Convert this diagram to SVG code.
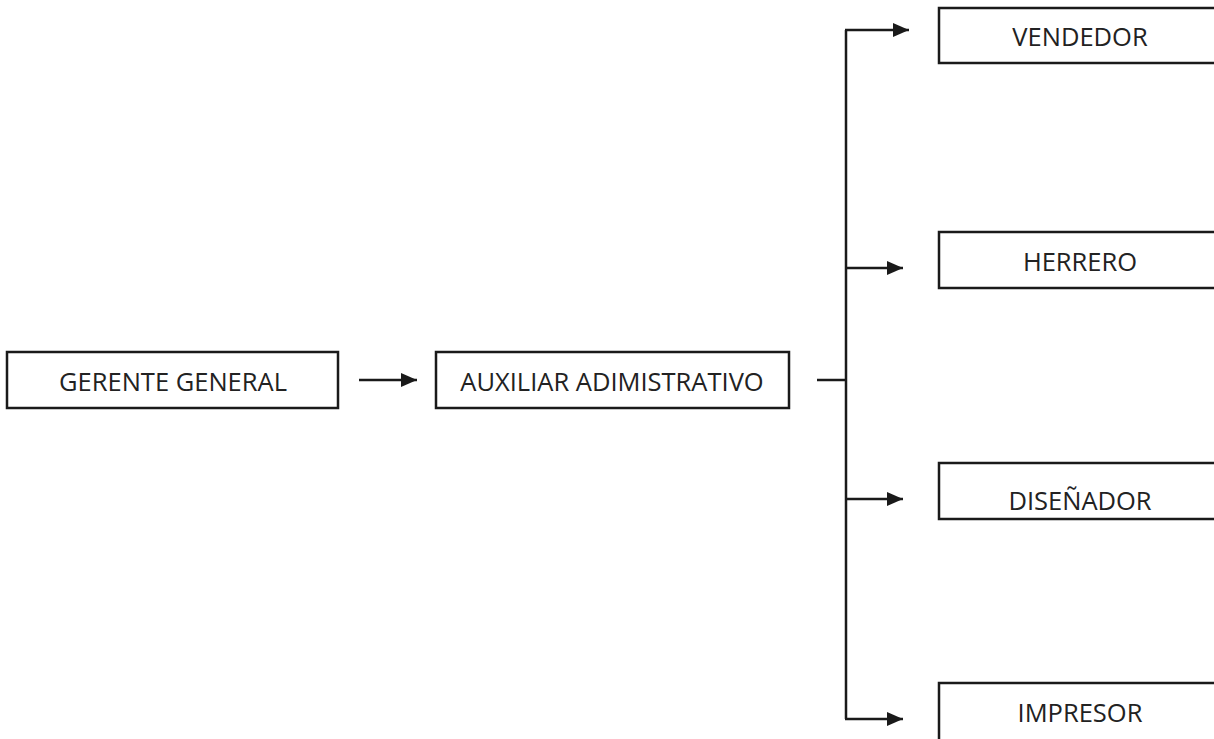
<svg xmlns="http://www.w3.org/2000/svg" width="1214" height="739" viewBox="0 0 1214 739">
<style>
.box{fill:#fff;stroke:#1a1a1a;stroke-width:2.5}
.lbl{font-family:"Open Sans","Liberation Sans",sans-serif;font-size:25.5px;fill:#222;text-anchor:middle}
.con{fill:none;stroke:#1a1a1a;stroke-width:2.5}
</style>
<defs>
<marker id="arr" markerWidth="16" markerHeight="14" refX="16" refY="7" orient="auto" markerUnits="userSpaceOnUse">
<path d="M0,0 L16,7 L0,14 Z" fill="#1a1a1a"/>
</marker>
</defs>
<rect width="1214" height="739" fill="#fff"/>
<g id="connectors">
<line class="con" x1="359" y1="380" x2="417" y2="380" marker-end="url(#arr)"/>
<line class="con" x1="817" y1="380" x2="846" y2="380"/>
<line class="con" x1="846" y1="30" x2="846" y2="719"/>
<line class="con" x1="845" y1="30" x2="909" y2="30" marker-end="url(#arr)"/>
<line class="con" x1="846" y1="268" x2="903" y2="268" marker-end="url(#arr)"/>
<line class="con" x1="846" y1="499" x2="903" y2="499" marker-end="url(#arr)"/>
<line class="con" x1="845" y1="719" x2="903" y2="719" marker-end="url(#arr)"/>
</g>
<g id="gerente">
<rect class="box" x="7" y="352" width="331" height="56"/>
<text class="lbl" x="173" y="391">GERENTE GENERAL</text>
</g>
<g id="auxiliar">
<rect class="box" x="436" y="352" width="353" height="56"/>
<text class="lbl" x="612" y="391">AUXILIAR ADIMISTRATIVO</text>
</g>
<g id="vendedor">
<rect class="box" x="939" y="8" width="285" height="55"/>
<text class="lbl" x="1080" y="46">VENDEDOR</text>
</g>
<g id="herrero">
<rect class="box" x="939" y="232" width="285" height="56"/>
<text class="lbl" x="1080" y="271">HERRERO</text>
</g>
<g id="disenador">
<rect class="box" x="939" y="463" width="285" height="56"/>
<text class="lbl" x="1080" y="510">DISEÑADOR</text>
</g>
<g id="impresor">
<rect class="box" x="939" y="683" width="285" height="70"/>
<text class="lbl" x="1080" y="722">IMPRESOR</text>
</g>
</svg>
